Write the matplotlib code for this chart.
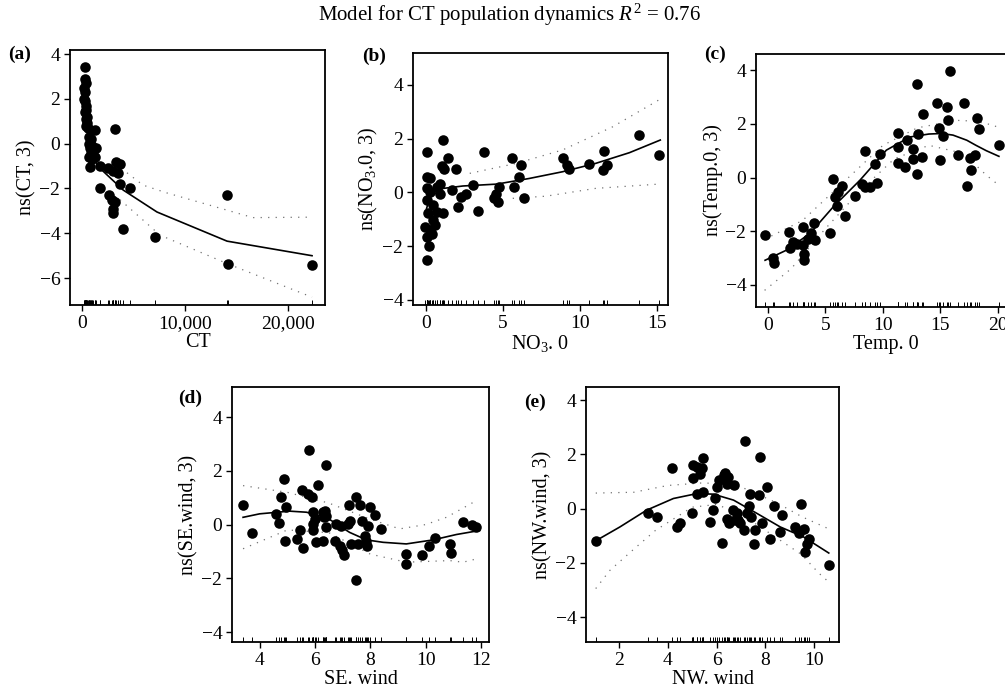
import numpy as np
import matplotlib
matplotlib.use("Agg")
import matplotlib.pyplot as plt
import matplotlib.transforms as mtransforms

plt.rcParams['font.family'] = ['Liberation Serif', 'DejaVu Serif']
plt.rcParams['mathtext.fontset'] = 'custom'
plt.rcParams['mathtext.rm'] = 'Liberation Serif'
plt.rcParams['mathtext.it'] = 'Liberation Serif:italic'

# ---------------- data ----------------
# (a) CT
a_x = [250, 300, 350, 200, 280, 220, 300, 350, 400, 300, 450, 350, 500, 400, 600,
       1260, 700, 900, 700, 1000, 800, 1400, 900, 1100, 700, 1300, 1000, 780, 1750,
       3200, 2500, 3000, 3300, 3700, 3500, 3700, 4660, 1750, 2600, 2900, 3000, 3200,
       3000, 3980, 7090, 14080, 14200, 22330]
a_y = [3.4, 2.9, 2.7, 2.5, 2.3, 2.0, 1.9, 1.7, 1.5, 1.4, 1.2, 1.1, 0.9, 0.8, 0.7,
       0.6, 0.3, 0.2, 0.0, -0.1, -0.2, -0.2, -0.4, -0.5, -0.6, -0.6, -0.7, -1.04, -1.0,
       0.65, -1.1, -1.2, -0.8, -0.9, -1.3, -1.8, -2.0, -2.0, -2.3, -2.5, -2.9, -2.6,
       -3.1, -3.8, -4.17, -2.29, -5.38, -5.4]
a_fit_x = [1000, 1750, 4000, 7280, 14080, 22330]
a_fit = [-0.6, -1.1, -2.07, -3.05, -4.35, -5.0]
a_up_x = [4370, 5920, 8250, 16600, 22430]
a_up = [-1.3, -1.85, -2.2, -3.3, -3.28]
a_lo_x = [3690, 7570, 14080, 22330]
a_lo = [-2.5, -4.08, -5.35, -6.85]

# (b) NO3.0
b_x = [0.04, 1.08, 1.45, 1.01, 1.16, 1.98, 3.75, 0.04, 0.26, 0.04, 0.2, 0.04, 0.26,
       -0.06, 0.47, 0.15, 0.69, 1.12, 0.47, 0.04, 0.26, 0.04, 0.69, 0.9, 1.66, 0.9,
       2.09, 2.3, 2.58, 3.05, 3.38, 4.39, 4.56, 4.67, 4.77, 5.59, 6.17, 6.06, 5.74,
       6.39, 8.86, 9.12, 9.25, 10.58, 11.55, 11.77, 11.51, 13.81, 15.1, 0.37, 0.58]
b_y = [1.51, 1.97, 1.30, 0.98, 0.86, 0.87, 1.51, 0.58, 0.52, -2.52, -1.99, -1.65, -1.40,
       -1.28, -1.03, -0.78, -0.72, -0.78, -0.47, -0.29, 0.02, 0.15, 0.21, -0.04, 0.09, 0.33,
       -0.53, -0.16, -0.04, 0.27, -0.68, -0.22, -0.04, -0.35, 0.21, 1.30, 1.02, 0.58, 0.21,
       -0.22, 1.27, 1.02, 0.89, 1.05, 1.54, 1.02, 0.83, 2.13, 1.39, -1.53, -1.22]
b_fit_x = [0.04, 0.26, 1.12, 2.4, 4.6, 6.7, 8.86, 11.0, 13.2, 15.2]
b_fit = [-0.6, -0.16, 0.15, 0.24, 0.31, 0.52, 0.77, 1.08, 1.48, 1.95]
b_up_x = [2.84, 5.85, 8.86, 12.1, 15.1]
b_up = [0.71, 1.08, 1.58, 2.44, 3.44]
b_lo_x = [5.63, 7.78, 11.0, 15.1]
b_lo = [-0.22, -0.14, 0.15, 0.31]

# (c) Temp.0
c_x = [-0.3, 0.41, 0.52, 1.91, 1.83, 2.2, 2.49, 3.07, 3.07, 3.13, 3.13, 3.5, 3.71,
       4.03, 4.09, 5.39, 5.68, 5.83, 5.97, 6.12, 6.41, 6.7, 7.57, 8.14, 8.43, 8.43,
       8.87, 9.3, 9.45, 9.74, 11.33, 11.33, 11.33, 12.06, 11.94, 12.58, 12.64, 12.99,
       13.07, 12.99, 13.36, 13.51, 14.72, 14.9, 14.96, 15.19, 15.54, 15.68, 15.88,
       16.55, 17.04, 17.28, 17.57, 17.71, 18.0, 18.2, 18.38, 20.1]
c_y = [-2.15, -3.01, -3.18, -2.61, -2.02, -2.39, -2.46, -1.84, -2.52, -2.83, -3.08,
       -2.27, -2.08, -1.69, -2.33, -2.06, -0.07, -0.74, -1.07, -0.53, -0.31, -1.44,
       -0.69, -0.25, 0.99, -0.35, -0.35, 0.5, -0.22, 0.87, 1.66, 1.12, 0.56, 1.41, 0.4,
       1.05, 0.68, 3.47, 1.61, 0.15, 0.77, 2.38, 2.78, 1.86, 0.67, 1.54, 2.63, 2.16,
       3.97, 0.83, 2.78, -0.31, 0.74, 0.27, 0.83, 2.23, 1.79, 1.2]
c_fit_x = [-0.26, 1.62, 3.65, 5.68, 8.0, 10.3, 12.35, 14.0, 15.1, 16.1, 17.3, 18.1, 19.0, 20.1]
c_fit = [-3.08, -2.7, -2.08, -1.09, -0.1, 1.02, 1.51, 1.62, 1.64, 1.58, 1.39, 1.2, 1.0, 0.79]
c_up_x = [-0.3, 3.0, 6.0, 10.0, 13.0, 16.4, 18.0, 19.6, 20.1]
c_up = [-2.3, -1.6, -0.4, 1.2, 1.85, 2.13, 2.1, 1.95, 1.85]
c_lo_x = [-0.3, 2.0, 5.0, 8.0, 11.0, 14.0, 17.0, 19.0, 19.9]
c_lo = [-4.2, -3.4, -1.9, -0.5, 0.7, 1.2, 0.9, 0.09, -0.22]

# (d) SE.wind
d_x = [3.4, 3.73, 4.6, 4.7, 4.78, 4.87, 4.94, 4.9, 5.45, 5.36, 5.54, 5.57, 5.75, 5.78,
       5.9, 5.93, 5.93, 5.93, 5.99, 6.02, 6.12, 6.29, 6.31, 6.29, 6.41, 6.35, 6.39,
       6.41, 6.71, 6.77, 6.89, 6.95, 6.99, 7.05, 7.19, 7.25, 7.23, 7.31, 7.49, 7.47,
       7.55, 7.61, 7.7, 7.8, 7.86, 7.88, 7.98, 7.92, 8.16, 8.4, 9.28, 9.28, 9.88,
       10.12, 10.33, 10.87, 10.9, 11.35, 11.69, 11.83]
d_y = [0.71, -0.32, 0.4, 0.05, 1.04, 1.7, 0.65, -0.6, -0.22, -0.53, 1.29, -0.87, 1.14,
       2.78, 1.02, 0.46, 0.02, -0.22, 0.21, -0.66, 1.49, 0.46, 0.27, -0.6, 2.22, 0.52,
       -0.1, 0.33, -0.6, 0.02, -0.78, -0.04, -0.94, -1.12, 0.02, 0.12, 0.74, -0.72,
       1.02, -2.08, -0.72, 0.71, 0.15, -0.41, -0.6, -0.78, 0.65, -0.04, 0.37, -0.16,
       -1.09, -1.46, -1.12, -0.81, -0.5, -0.74, -1.07, 0.09, 0.0, -0.1]
d_fit_x = [3.4, 4.0, 5.08, 5.69, 6.41, 7.25, 7.86, 8.46, 9.3, 10.27, 11.11, 11.95]
d_fit = [0.27, 0.4, 0.5, 0.46, 0.27, -0.29, -0.57, -0.66, -0.72, -0.57, -0.37, -0.22]
d_up_x = [3.4, 5.0, 6.5, 8.0, 9.06, 10.0, 10.75, 11.83]
d_up = [1.45, 1.2, 0.8, 0.2, -0.16, 0.0, 0.27, 0.89]
d_lo_x = [3.4, 5.0, 6.5, 8.0, 9.3, 10.87, 11.35, 11.95]
d_lo = [-0.9, -0.2, -0.3, -1.1, -1.4, -1.34, -1.4, -1.25]

# (e) NW.wind
e_x = [1.04, 3.2, 3.57, 4.16, 4.36, 4.5, 4.98, 5.05, 5.05, 5.19, 5.19, 5.32, 5.39, 5.43,
       5.43, 5.74, 5.85, 5.94, 6.04, 6.12, 6.22, 6.29, 6.35, 6.42, 6.42, 6.49, 6.53,
       6.67, 6.73, 6.77, 6.84, 6.9, 6.97, 7.11, 7.18, 7.25, 7.32, 7.36, 7.41, 7.52,
       7.59, 7.73, 7.77, 7.87, 8.07, 8.21, 8.35, 8.62, 8.69, 9.45, 9.24, 9.38, 9.58,
       9.79, 9.72, 9.65, 10.61]
e_y = [-1.19, -0.18, -0.31, 1.51, -0.68, -0.55, -0.18, 1.6, 1.11, 1.54, 0.55, 1.29,
       1.48, 1.88, 0.62, -0.49, -0.06, 0.37, 0.78, 1.05, -1.27, 1.23, 1.32, 0.92, -0.37,
       1.17, -0.55, -0.04, 0.86, -0.43, -0.18, -0.43, -0.55, -0.8, 2.5, -0.18, 0.09,
       0.52, -0.31, -1.32, -0.8, 0.49, 1.91, -0.55, 0.78, -1.11, 0.09, -0.86, -0.25,
       0.16, -0.68, -0.92, -0.74, -1.11, -1.29, -1.6, -2.09]
e_fit_x = [1.04, 2.03, 3.13, 4.23, 5.19, 5.87, 6.7, 7.66, 8.62, 9.58, 10.61]
e_fit = [-1.19, -0.68, -0.06, 0.37, 0.55, 0.53, 0.31, -0.18, -0.68, -1.05, -1.64]
e_up_x = [1.04, 2.6, 4.0, 5.5, 7.0, 8.5, 9.5, 10.61]
e_up = [0.57, 0.6, 0.85, 0.95, 0.8, 0.2, -0.3, -0.75]
e_lo_x = [1.04, 1.62, 2.6, 3.5, 5.0, 6.0, 7.0, 8.5, 9.5, 10.2, 10.61]
e_lo = [-2.95, -2.28, -1.5, -0.8, 0.05, 0.15, -0.2, -1.1, -1.7, -2.38, -2.71]

panels = [
    dict(x=a_x, y=a_y, fx=a_fit_x, fy=a_fit, ux=a_up_x, uy=a_up, lx=a_lo_x, ly=a_lo,
         xlabel="CT", ylabel="ns(CT, 3)", tag="(a)",
         xticks=[0, 10000, 20000], xticklabels=["0", "10,000", "20,000"],
         yticks=[-6, -4, -2, 0, 2, 4],
         xlim=(-1165, 23590), ylim=(-7.2, 4.18)),
    dict(x=b_x, y=b_y, fx=b_fit_x, fy=b_fit, ux=b_up_x, uy=b_up, lx=b_lo_x, ly=b_lo,
         xlabel="NO$_3$. 0", ylabel="ns(NO$_3$.0, 3)", tag="(b)",
         xticks=[0, 5, 10, 15], xticklabels=["0", "5", "10", "15"],
         yticks=[-4, -2, 0, 2, 4],
         xlim=(-0.84, 15.7), ylim=(-4.19, 5.19)),
    dict(x=c_x, y=c_y, fx=c_fit_x, fy=c_fit, ux=c_up_x, uy=c_up, lx=c_lo_x, ly=c_lo,
         xlabel="Temp. 0", ylabel="ns(Temp.0, 3)", tag="(c)",
         xticks=[0, 5, 10, 15, 20], xticklabels=["0", "5", "10", "15", "20"],
         yticks=[-4, -2, 0, 2, 4],
         xlim=(-1.05, 21.5), ylim=(-4.82, 4.6)),
    dict(x=d_x, y=d_y, fx=d_fit_x, fy=d_fit, ux=d_up_x, uy=d_up, lx=d_lo_x, ly=d_lo,
         xlabel="SE. wind", ylabel="ns(SE.wind, 3)", tag="(d)",
         xticks=[4, 6, 8, 10, 12], xticklabels=["4", "6", "8", "10", "12"],
         yticks=[-4, -2, 0, 2, 4],
         xlim=(3.0, 12.29), ylim=(-4.37, 5.12)),
    dict(x=e_x, y=e_y, fx=e_fit_x, fy=e_fit, ux=e_up_x, uy=e_up, lx=e_lo_x, ly=e_lo,
         xlabel="NW. wind", ylabel="ns(NW.wind, 3)", tag="(e)",
         xticks=[2, 4, 6, 8, 10], xticklabels=["2", "4", "6", "8", "10"],
         yticks=[-4, -2, 0, 2, 4],
         xlim=(0.64, 11.03), ylim=(-4.92, 4.48)),
]

# axes boxes in pixels: left, top, right, bottom
W, H = 1005, 689
boxes = [(70, 50, 325, 305), (413, 53, 668, 305), (756, 54, 1015, 307),
         (232, 387, 489, 642), (586, 387, 839, 642)]
tag_pos = [(20, 54), (374, 56), (715, 54), (190, 398), (535, 402)]

fig = plt.figure(figsize=(W / 100, H / 100), dpi=100)

for p, (l, t, r, b), (tx, ty) in zip(panels, boxes, tag_pos):
    ax = fig.add_axes([l / W, 1 - b / H, (r - l) / W, (b - t) / H])
    ax.plot(p["ux"], p["uy"], color="0.45", linestyle=(0, (1, 5)), linewidth=0.9)
    ax.plot(p["lx"], p["ly"], color="0.45", linestyle=(0, (1, 5)), linewidth=0.9)
    ax.plot(p["fx"], p["fy"], color="black", linewidth=1.2)
    ax.plot(p["x"], p["y"], "o", color="black", markersize=7.6, markeredgewidth=0)
    # rug along the bottom
    trans = mtransforms.blended_transform_factory(ax.transData, ax.transAxes)
    ax.vlines(p["x"], 0, 0.02, transform=trans, color="black", linewidth=0.7)

    ax.set_xlim(*p["xlim"])
    ax.set_ylim(*p["ylim"])
    ax.set_xticks(p["xticks"])
    ax.set_xticklabels(p["xticklabels"])
    ax.set_yticks(p["yticks"])
    ax.set_yticklabels([str(v).replace("-", "\u2212") for v in p["yticks"]])
    ax.tick_params(direction="out", length=4, width=1, labelsize=14, pad=3)
    for s in ax.spines.values():
        s.set_linewidth(1.3)
    ax.set_xlabel(p["xlabel"], fontsize=14.5, labelpad=1)
    ax.set_ylabel(p["ylabel"], fontsize=14.5, labelpad=2)
    fig.text(tx / W, 1 - ty / H, p["tag"], fontsize=14, fontweight="bold",
             ha="center", va="center")

fig.text(509 / W, 1 - 15 / H, "Model for CT population dynamics $\\mathit{R}^2$ = 0.76",
         fontsize=15, ha="center", va="center")

fig.savefig("out.png", dpi=100)
